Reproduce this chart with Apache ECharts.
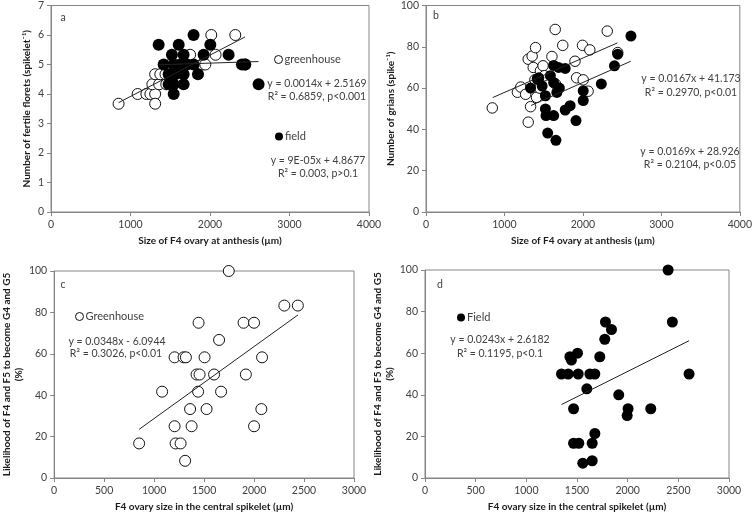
<!DOCTYPE html>
<html><head><meta charset="utf-8">
<script src="https://cdn.jsdelivr.net/npm/echarts@6/dist/echarts.min.js"></script>
<style>html,body{margin:0;padding:0;background:#fff}#c{width:755px;height:514px}</style>
</head><body><div id="c"></div>
<script>
// ---------- data ----------
// Panel a: number of fertile florets vs F4 ovary size
const aGreenhouse = [[850,3.67],[1090,4],[1200,4],[1250,4],[1310,4],[1310,3.67],[1275,4.33],[1360,4.33],[1450,4.33],
  [1310,4.67],[1375,4.67],[1440,4.67],[1525,4.67],[1505,5],[1650,5],[1900,5],[1941,5],[2440,5],
  [1600,5.33],[1750,5.33],[2070,5.33],[2016,6],[2318,6]];
const aField = [[1793,6],[1354,5.67],[1606,5.67],[2004,5.67],[1521,5.33],[1668,5.33],[1920,5.33],[2234,5.33],
  [1417,5],[1543,5],[1627,5],[1711,5],[1794,5],[2402,5],[2444,5],[1480,4.67],[1563,4.67],[1668,4.67],[1849,4.67],
  [1480,4.33],[1543,4.33],[1668,4.33],[2611,4.33],[1543,4]];
const aTrendGreenhouse = [[850,3.707],[2440,5.933]];
const aTrendField = [[1350,4.99],[2610,5.10]];

// Panel b: number of grains vs F4 ovary size
const bGreenhouse = [[845,50.4],[1165,58],[1208,60.5],[1270,57],[1303,43.5],[1303,74],[1333,51],[1353,75.5],[1367,70],
  [1388,64],[1396,79.6],[1409,55.5],[1450,60],[1459,68.4],[1492,70.8],[1510,66],[1605,75.3],[1647,88.4],[1650,62],
  [1743,80.7],[1899,73],[1920,65],[1995,80.7],[2004,64],[2066,58.5],[2088,78.5],[2310,87.6],[2444,77.2]];
const bField = [[1333,60],[1417,64.4],[1438,65],[1480,61],[1522,56.3],[1522,49.9],[1530,46.7],[1551,38.2],[1585,66],
  [1627,71],[1627,62.7],[1627,46.7],[1656,34.7],[1668,57.9],[1690,70],[1700,60],[1774,69.5],[1774,49.4],[1837,51.5],
  [1912,44.3],[2004,58.7],[2004,54],[2235,62],[2402,70.8],[2444,76.4],[2612,85.2]];
const bTrendGreenhouse = [[850,55.4],[2440,81.9]];
const bTrendField = [[1340,51.6],[2610,73.0]];

// Panel c: likelihood (%) vs F4 ovary size, greenhouse
const cGreenhouse = [[850,16.7],[1080,41.7],[1205,25],[1205,58.3],[1215,16.7],[1265,16.7],[1310,8.3],[1295,58.3],
  [1318,58.3],[1360,33.3],[1375,25],[1425,50],[1455,50],[1440,41.7],[1445,75],[1505,58.3],[1525,33.3],[1600,50],
  [1650,66.7],[1670,41.7],[1747,100],[1895,75],[2000,75],[1918,50],[2000,25],[2073,33.3],[2080,58.3],[2303,83.3],[2438,83.3]];
const cTrend = [[850,23.5],[2440,78.8]];

// Panel d: likelihood (%) vs F4 ovary size, field
const dField = [[1347,50],[1413,50],[1512,50],[1627,50],[1676,50],[1430,58.3],[1445,56.7],[1505,60],[1725,58.3],
  [1597,42.9],[1774,66.7],[1781,75],[1840,71.4],[1912,40],[2004,33.3],[1995,30],[2228,33.3],[2399,100],[2441,75],
  [2606,50],[1466,33.3],[1466,16.7],[1518,16.7],[1650,16.7],[1676,21.4],[1557,7.1],[1650,8.3]];
const dTrend = [[1347,35.3],[2606,66]];

const xTitleTop = 'Size of F4 ovary at anthesis (µm)';
const xTitleBottom = 'F4 ovary size in the central spikelet (µm)';
const yTitleA = 'Number of fertile florets (spikelet⁻¹)';
const yTitleB = 'Number of grians (spike⁻¹)';
const yTitleCD = 'Likelihood of F4 and F5 to become G4 and G5\n(%)';

// ---------- styling ----------
const FONT = 'Lato';
const AXC = '#868686';
const LBL = '#404040';
const plain = v => String(v);
function xAx(gi, max, interval, name){
  return {gridIndex:gi, type:'value', min:0, max:max, interval:interval,
    name:name, nameLocation:'middle', nameGap:24,
    nameTextStyle:{fontFamily:FONT, fontWeight:'bold', fontSize:10, color:'#1a1a1a'},
    axisLine:{show:true, lineStyle:{color:AXC, width:1}},
    axisTick:{show:true, length:4, lineStyle:{color:AXC}},
    axisLabel:{color:LBL, fontFamily:FONT, fontSize:10.5, margin:7, formatter:plain},
    splitLine:{show:false}};
}
function yAx(gi, max, interval, name, gap, lh){
  return {gridIndex:gi, type:'value', min:0, max:max, interval:interval,
    name:name, nameLocation:'middle', nameGap:gap,
    nameTextStyle:{fontFamily:FONT, fontWeight:'bold', fontSize:10, color:'#1a1a1a', lineHeight:lh||12},
    axisLine:{show:true, lineStyle:{color:AXC, width:1}},
    axisTick:{show:true, length:4, lineStyle:{color:AXC}},
    axisLabel:{color:LBL, fontFamily:FONT, fontSize:10.5, margin:7, formatter:plain},
    splitLine:{show:false}};
}
const openStyle = {color:'#ffffff', borderColor:'#111', borderWidth:1, opacity:1};
const fillStyle = {color:'#000000', opacity:1};
function sc(name, data, gi, style, size, z){
  return {name:name, type:'scatter', xAxisIndex:gi, yAxisIndex:gi, data:data, symbol:'circle',
    symbolSize:size, itemStyle:style, z:z, emphasis:{disabled:true}};
}
function tr(data, gi){
  return {type:'line', xAxisIndex:gi, yAxisIndex:gi, data:data, symbol:'none', z:10,
    lineStyle:{color:'#222', width:1}, emphasis:{disabled:true}, silent:true};
}
function txt(x, y, s, align){
  return {type:'text', x:x, y:y, style:{text:s, fill:'#404040', font:'10.5px '+FONT,
    align:align||'center', verticalAlign:'middle'}};
}
function leg(name, left, top, style){
  return {left:left, top:top, itemWidth:8, itemHeight:8, itemGap:0, padding:0,
    textStyle:{fontFamily:FONT, fontSize:11, color:'#404040', padding:[0,0,0,-3]},
    data:[{name:name, icon:'circle', itemStyle:style}], selectedMode:false};
}

const option = {
  animation:false,
  backgroundColor:'#fff',
  grid:[
    {left:51, top:5, width:318, height:207, show:true, borderColor:AXC, borderWidth:1},
    {left:426, top:4, width:318, height:208, show:true, borderColor:AXC, borderWidth:1},
    {left:51, top:271, width:303, height:207, show:true, borderColor:AXC, borderWidth:1},
    {left:425, top:270, width:304, height:208, show:true, borderColor:AXC, borderWidth:1}
  ],
  xAxis:[xAx(0,4000,1000,xTitleTop), xAx(1,4000,1000,xTitleTop), xAx(2,3000,500,xTitleBottom), xAx(3,3000,500,xTitleBottom)],
  yAxis:[yAx(0,7,1,yTitleA,18), yAx(1,100,20,yTitleB,25), yAx(2,100,20,yTitleCD,18), yAx(3,100,20,yTitleCD,16)],
  legend:[
    leg('greenhouse', 274, 54, openStyle),
    leg('field', 275, 131, fillStyle),
    leg('Greenhouse', 75, 311, openStyle),
    leg('Field', 457, 312, fillStyle)
  ],
  series:[
    sc('greenhouse', aGreenhouse, 0, openStyle, 11, 2),
    sc('field', aField, 0, fillStyle, 12, 3),
    tr(aTrendGreenhouse, 0), tr(aTrendField, 0),
    sc('greenhouse', bGreenhouse, 1, openStyle, 10.5, 2),
    sc('field', bField, 1, fillStyle, 11, 3),
    tr(bTrendGreenhouse, 1), tr(bTrendField, 1),
    sc('Greenhouse', cGreenhouse, 2, openStyle, 11, 2),
    tr(cTrend, 2),
    sc('Field', dField, 3, fillStyle, 11, 3),
    tr(dTrend, 3)
  ],
  graphic:[
    txt(63, 18, 'a', 'center'),
    txt(317, 84, 'y = 0.0014x + 2.5169'),
    txt(317, 97, 'R² = 0.6859, p<0.001'),
    txt(318, 161, 'y = 9E-05x + 4.8677'),
    txt(318, 174, 'R² = 0.003, p>0.1'),
    txt(436, 16, 'b', 'center'),
    txt(691, 79, 'y = 0.0167x + 41.173'),
    txt(691, 93, 'R² = 0.2970, p<0.01'),
    txt(690, 152, 'y = 0.0169x + 28.926'),
    txt(690, 165, 'R² = 0.2104, p<0.05'),
    txt(63, 285, 'c', 'center'),
    txt(117, 342, 'y = 0.0348x - 6.0944'),
    txt(116, 354, 'R² = 0.3026, p<0.01'),
    txt(440, 285, 'd', 'center'),
    txt(500, 340, 'y = 0.0243x + 2.6182'),
    txt(500, 354, 'R² = 0.1195, p<0.1')
  ]
};
const chart = echarts.init(document.getElementById('c'), null, {renderer:'canvas'});
chart.setOption(option);
</script></body></html>
